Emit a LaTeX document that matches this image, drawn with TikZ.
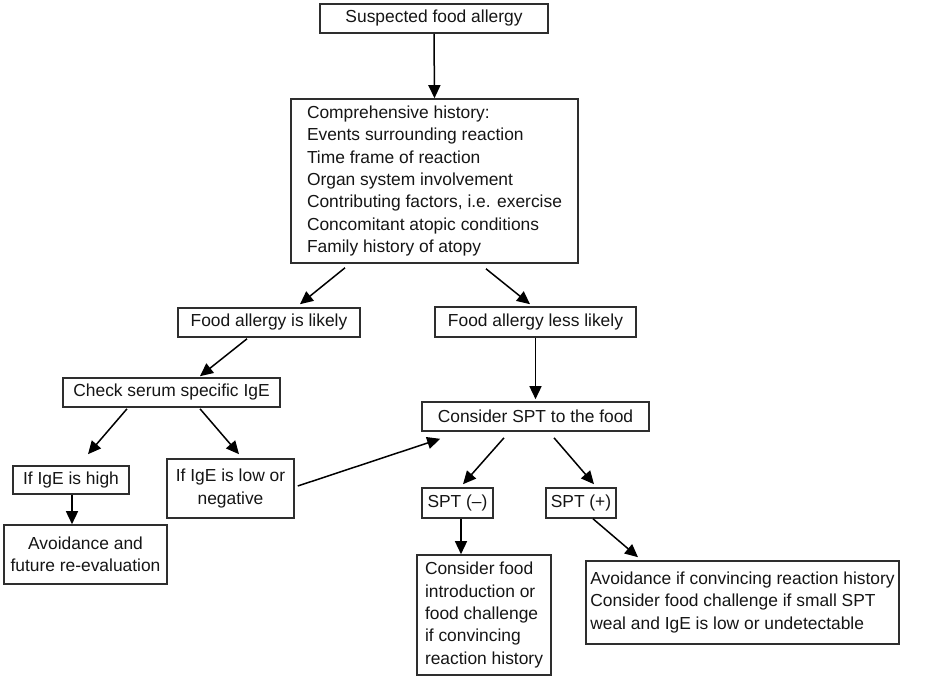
\documentclass[tikz,border=0pt]{standalone}
\usepackage{fontspec}
\setmainfont{Liberation Sans}
\usetikzlibrary{arrows.meta,calc}
\definecolor{boxgray}{HTML}{2E2E2E}
\definecolor{textgray}{HTML}{151515}
\begin{document}
\begin{tikzpicture}[x=1pt,y=-1pt,
  box/.style={draw=boxgray, line width=1.6pt, inner sep=0pt, text=textgray,
    font=\fontsize{17.4}{22.3}\selectfont},
  conn/.style={draw=black, line width=1.5pt, -{Triangle[length=13pt,width=12pt]}}
]
\useasboundingbox (0,0) rectangle (930,676);

% boxes
\node[box, minimum width=228pt, minimum height=29pt] (top) at (434,18.5) {Suspected food allergy};
\node[box, minimum width=287pt, minimum height=164pt, align=left] (hist) at (434.5,181)
  {Comprehensive history:\\Events surrounding reaction\\Time frame of reaction\\Organ system involvement\\Contributing factors, i.e. exercise\\Concomitant atopic conditions\\Family history of atopy};
\node[box, minimum width=182pt, minimum height=29pt] (likely) at (269,322.5) {Food allergy is likely};
\node[box, minimum width=201pt, minimum height=30pt] (less) at (535.5,322) {Food allergy less likely};
\node[box, minimum width=217pt, minimum height=29pt] (serum) at (171.5,392.5) {Check serum specific IgE};
\node[box, minimum width=227pt, minimum height=29pt] (spt) at (535.5,416.5) {Consider SPT to the food};
\node[box, minimum width=116pt, minimum height=28pt] (high) at (71,480) {If IgE is high};
\node[box, minimum width=127pt, minimum height=59pt, align=center] (low) at (230.5,488.5) {If IgE is low or\\negative};
\node[box, minimum width=163pt, minimum height=59pt, align=center] (avoid1) at (85.5,554.5) {Avoidance and\\future re-evaluation};
\node[box, minimum width=71pt, minimum height=30pt] (sptneg) at (457.5,503) {SPT (–)};
\node[box, minimum width=70pt, minimum height=30pt] (sptpos) at (581,503) {SPT (+)};
\node[box, minimum width=134pt, minimum height=120pt, align=left] (food) at (484,615)
  {Consider food\\introduction or\\food challenge\\if convincing\\reaction history};
\node[box, minimum width=313pt, minimum height=83pt, align=left] (avoid2) at (742.5,602.5)
  {Avoidance if convincing reaction history\\Consider food challenge if small SPT\\weal and IgE is low or undetectable};

% connectors
\draw[conn] (top.south) -- (hist.north);
\draw[conn] ($(hist.south)+(-89.5,4)$) -- ($(likely.north)+(31,-3)$);
\draw[conn] ($(hist.south)+(51.5,5)$) -- ($(less.north)+(-5.5,-2)$);
\draw[conn] ($(likely.south)+(-22,1)$) -- ($(serum.north)+(28.5,-1)$);
\draw[conn] (less.south) -- ($(spt.north)+(0,-2)$);
\draw[conn] ($(serum.south)+(-44.5,1)$) -- ($(high.north)+(17,-11)$);
\draw[conn] ($(serum.south)+(28.5,1)$) -- ($(low.north)+(8.5,-4)$);
\draw[conn] ($(low.east)+(3,-2.5)$) -- ($(spt.south west)+(19,7)$);
\draw[conn] ($(spt.south)+(-31.5,6)$) -- ($(sptneg.north)+(5.5,-3)$);
\draw[conn] ($(spt.south)+(18.5,6)$) -- ($(sptpos.north)+(13,-3)$);
\draw[conn] ($(sptneg.south)+(3.5,0)$) -- ($(food.north)+(-23,0)$);
\draw[conn] ($(sptpos.south)+(12,0)$) -- ($(avoid2.north)+(-104.5,-3)$);
\draw[conn] ($(high.south)+(1,0)$) -- ($(avoid1.north)+(-13.5,0)$);
\end{tikzpicture}
\end{document}
